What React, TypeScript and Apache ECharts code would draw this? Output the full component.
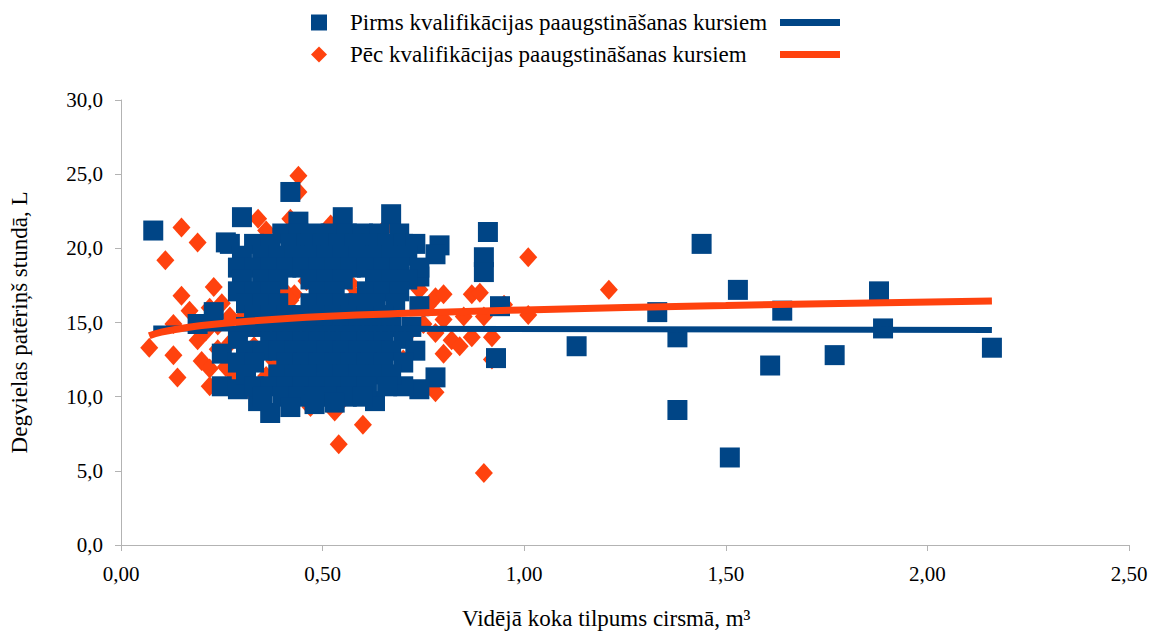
import React, { useEffect, useRef } from "react";
import * as echarts from "echarts";

const NAME_BEFORE = "Pirms kvalifikācijas paaugstināšanas kursiem";
const NAME_AFTER = "Pēc kvalifikācijas paaugstināšanas kursiem";
const TREND_BEFORE = "Pirms (tendence)";
const TREND_AFTER = "Pēc (tendence)";
const X_TITLE = "Vidējā koka tilpums cirsmā, m³";
const Y_TITLE = "Degvielas patēriņš stundā, L";

const xTicks = [0, 0.5, 1, 1.5, 2, 2.5];
const yTicks = [0, 5, 10, 15, 20, 25, 30];

// Before courses (blue squares)
const beforePoints: [number, number][] = [
  // outliers
  [0.08, 21.2], [1.13, 13.4], [1.33, 15.7], [1.38, 14.0], [1.38, 9.1], [1.44, 20.3],
  [1.51, 5.9], [1.53, 17.2], [1.64, 15.8], [1.61, 12.1], [1.77, 12.8], [1.88, 17.1],
  [1.89, 14.6], [2.16, 13.3], [0.93, 12.6], [0.94, 16.1], [0.91, 21.1], [0.90, 19.4],
  [0.90, 18.4], [0.79, 20.2], [0.78, 19.6], [0.78, 11.3], [0.74, 18.1], [0.74, 16.1],
  [0.74, 10.5], [0.67, 22.3], [0.55, 22.1], [0.44, 21.8], [0.42, 23.8], [0.30, 22.1],
  [0.26, 20.4], [0.37, 8.9], [0.34, 9.7], [0.25, 10.7], [0.25, 12.9], [0.23, 15.7],
  [0.19, 14.9], [0.29, 10.5], [0.63, 9.7], [0.70, 10.7],
  // dense cluster
  [0.40, 21.0], [0.44, 21.0], [0.48, 21.0], [0.52, 21.0], [0.56, 21.0], [0.60, 21.0], [0.64, 21.0], [0.69, 21.0],
  [0.27, 20.3], [0.33, 20.3], [0.37, 20.3], [0.42, 20.3], [0.46, 20.3], [0.50, 20.3], [0.54, 20.3], [0.58, 20.3], [0.62, 20.3], [0.66, 20.3], [0.70, 20.3], [0.73, 20.3],
  [0.30, 19.5], [0.35, 19.5], [0.39, 19.5], [0.43, 19.5], [0.47, 19.5], [0.51, 19.5], [0.55, 19.5], [0.59, 19.5], [0.63, 19.5], [0.67, 19.5], [0.71, 19.5],
  [0.29, 18.7], [0.33, 18.7], [0.37, 18.7], [0.41, 18.7], [0.45, 18.7], [0.49, 18.7], [0.53, 18.7], [0.57, 18.7], [0.61, 18.7], [0.65, 18.7], [0.69, 18.7], [0.74, 18.7],
  [0.30, 17.9], [0.35, 17.9], [0.39, 17.9], [0.47, 17.9], [0.51, 17.9], [0.55, 17.9], [0.63, 17.9], [0.67, 17.9], [0.71, 17.9],
  [0.29, 17.1], [0.33, 17.1], [0.37, 17.1], [0.49, 17.1], [0.53, 17.1], [0.61, 17.1], [0.65, 17.1], [0.69, 17.1],
  [0.31, 16.3], [0.35, 16.3], [0.39, 16.3], [0.47, 16.3], [0.51, 16.3], [0.55, 16.3], [0.59, 16.3], [0.63, 16.3], [0.68, 16.3],
  [0.33, 15.5], [0.37, 15.5], [0.41, 15.5], [0.45, 15.5], [0.49, 15.5], [0.53, 15.5], [0.57, 15.5], [0.61, 15.5], [0.65, 15.5],
  [0.31, 14.7], [0.35, 14.7], [0.39, 14.7], [0.43, 14.7], [0.47, 14.7], [0.51, 14.7], [0.55, 14.7], [0.59, 14.7], [0.63, 14.7], [0.67, 14.7], [0.72, 14.7],
  [0.29, 13.9], [0.37, 13.9], [0.41, 13.9], [0.45, 13.9], [0.49, 13.9], [0.53, 13.9], [0.57, 13.9], [0.61, 13.9], [0.65, 13.9], [0.70, 13.9],
  [0.31, 13.1], [0.35, 13.1], [0.39, 13.1], [0.43, 13.1], [0.47, 13.1], [0.51, 13.1], [0.55, 13.1], [0.59, 13.1], [0.63, 13.1], [0.67, 13.1], [0.73, 13.1],
  [0.29, 12.3], [0.33, 12.3], [0.41, 12.3], [0.45, 12.3], [0.49, 12.3], [0.53, 12.3], [0.57, 12.3], [0.61, 12.3], [0.65, 12.3], [0.70, 12.3],
  [0.31, 11.5], [0.39, 11.5], [0.43, 11.5], [0.47, 11.5], [0.51, 11.5], [0.55, 11.5], [0.59, 11.5], [0.63, 11.5], [0.67, 11.5],
  [0.33, 10.7], [0.37, 10.7], [0.41, 10.7], [0.45, 10.7], [0.49, 10.7], [0.53, 10.7], [0.57, 10.7], [0.61, 10.7], [0.66, 10.7],
  [0.35, 10.0], [0.40, 10.0], [0.44, 10.0], [0.48, 10.0], [0.52, 10.0], [0.56, 10.0], [0.60, 10.0],
  [0.42, 9.3], [0.48, 9.5], [0.53, 9.6],
];

// After courses (orange diamonds)
const afterPoints: [number, number][] = [
  [0.07, 13.3], [0.11, 19.2], [0.15, 21.4], [0.19, 20.4], [0.14, 11.3], [0.13, 12.8],
  [0.13, 14.9], [0.15, 16.8], [0.17, 15.8], [0.19, 13.8], [0.20, 12.4], [0.22, 11.9],
  [0.23, 17.4], [0.22, 10.7], [0.24, 13.2], [0.26, 12.0], [0.21, 14.4], [0.24, 14.8],
  [0.27, 15.4], [0.25, 16.3], [0.22, 16.0], [0.44, 24.9], [0.44, 23.8], [0.34, 22.0],
  [0.42, 22.0], [0.54, 6.8], [0.53, 9.0], [0.60, 8.1], [0.90, 4.85], [1.01, 19.4],
  [1.21, 17.2], [0.95, 16.2], [0.87, 16.9], [0.89, 17.0], [0.78, 16.7], [0.80, 16.9],
  [0.90, 15.4], [0.85, 15.4], [0.80, 15.2], [1.01, 15.5], [0.78, 14.3], [0.82, 13.8],
  [0.84, 13.4], [0.87, 14.0], [0.92, 14.0], [0.80, 12.9], [0.92, 12.5], [0.78, 10.3],
  [0.43, 16.9], [0.46, 17.8], [0.40, 17.3], [0.50, 16.2], [0.58, 16.8], [0.63, 18.7],
  [0.60, 18.9], [0.64, 20.2], [0.66, 21.5], [0.52, 21.6], [0.36, 21.2], [0.30, 15.3],
  [0.35, 15.0], [0.38, 12.4], [0.36, 11.4], [0.31, 10.9], [0.48, 15.3], [0.60, 14.8],
  [0.65, 13.3], [0.70, 12.5], [0.72, 14.5], [0.74, 17.2], [0.76, 16.1], [0.75, 14.9],
  [0.76, 10.6], [0.68, 11.0], [0.55, 9.8], [0.47, 9.3], [0.32, 10.4], [0.28, 11.5],
  [0.27, 13.6], [0.30, 14.2], [0.33, 13.4], [0.42, 16.5], [0.57, 17.6],
];

const trendBefore: [number, number][] = [[0.08, 14.6], [2.16, 14.5]];
const trendAfter: [number, number][] = [
  [0.07, 14.1], [0.1, 14.35], [0.15, 14.6], [0.2, 14.8], [0.3, 15.05],
  [0.5, 15.4], [0.75, 15.65], [1.0, 15.85], [1.5, 16.15], [2.16, 16.45],
];

const BLUE = "#004586";
const ORANGE = "#ff420e";
const FONT = "'Liberation Serif', 'DejaVu Serif', serif";

export default function App() {
  const ref = useRef<HTMLDivElement>(null);
  useEffect(() => {
    document.body.style.margin = "0";
    const chart = echarts.init(ref.current!, null, { renderer: "svg" });
    const axisLineStyle = { color: "#b3b3b3", width: 1 };
    chart.setOption({
      animation: false,
      backgroundColor: "#ffffff",
      textStyle: { fontFamily: FONT, color: "#000" },
      grid: { left: 121, right: 23, top: 100, bottom: 87 },
      legend: [
        {
          data: [NAME_BEFORE, NAME_AFTER],
          orient: "vertical",
          left: 306,
          top: 6,
          itemGap: 9,
          itemWidth: 16,
          itemHeight: 16,
          textStyle: { fontFamily: FONT, fontSize: 23, color: "#000", padding: [0, 0, 0, 18] },
        },
        {
          data: [TREND_BEFORE, TREND_AFTER],
          orient: "vertical",
          left: 775,
          top: 6,
          itemGap: 9,
          itemWidth: 60,
          itemHeight: 7,
          icon: "rect",
          formatter: () => "\u00a0",
          textStyle: { fontFamily: FONT, fontSize: 23, color: "#000" },
        },
      ],
      xAxis: {
        type: "value",
        min: xTicks[0],
        max: xTicks[xTicks.length - 1],
        interval: 0.5,
        splitLine: { show: false },
        axisLine: { show: true, onZero: false, lineStyle: axisLineStyle },
        axisTick: { show: true, length: 6, lineStyle: axisLineStyle },
        axisLabel: {
          margin: 18,
          fontSize: 21,
          fontFamily: FONT,
          color: "#000",
          formatter: (v: number) => v.toFixed(2).replace(".", ","),
        },
      },
      yAxis: {
        type: "value",
        min: yTicks[0],
        max: yTicks[yTicks.length - 1],
        interval: 5,
        name: Y_TITLE,
        nameLocation: "middle",
        nameGap: 90,
        nameTextStyle: { fontFamily: FONT, fontSize: 23, color: "#000" },
        splitLine: { show: false },
        axisLine: { show: true, lineStyle: axisLineStyle },
        axisTick: { show: true, length: 6, lineStyle: axisLineStyle },
        axisLabel: {
          margin: 18,
          fontSize: 21,
          fontFamily: FONT,
          color: "#000",
          formatter: (v: number) => v.toFixed(1).replace(".", ","),
        },
      },
      graphic: [
        {
          type: "text",
          left: 462,
          top: 607,
          style: { text: X_TITLE, fontFamily: FONT, fontSize: 23, fill: "#000" },
        },
      ],
      series: [
        {
          name: NAME_AFTER,
          type: "scatter",
          symbol: "diamond",
          symbolSize: [18, 20],
          itemStyle: { color: ORANGE, opacity: 1 },
          data: afterPoints,
          z: 2,
        },
        {
          name: NAME_BEFORE,
          type: "scatter",
          symbol: "rect",
          symbolSize: 20,
          itemStyle: { color: BLUE, opacity: 1 },
          data: beforePoints,
          z: 3,
        },
        {
          name: TREND_BEFORE,
          type: "line",
          showSymbol: false,
          symbol: "none",
          lineStyle: { color: BLUE, width: 6 },
          itemStyle: { color: BLUE },
          data: trendBefore,
          z: 4,
        },
        {
          name: TREND_AFTER,
          type: "line",
          showSymbol: false,
          symbol: "none",
          smooth: true,
          lineStyle: { color: ORANGE, width: 7 },
          itemStyle: { color: ORANGE },
          data: trendAfter,
          z: 5,
        },
      ],
    });
    return () => chart.dispose();
  }, []);
  return <div ref={ref} style={{ width: 1152, height: 632 }} />;
}
